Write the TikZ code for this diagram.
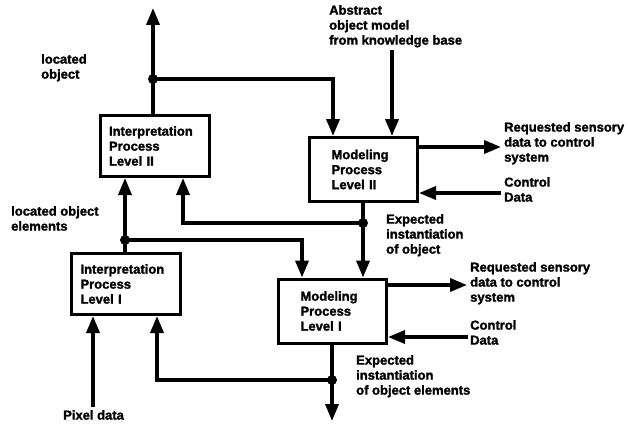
\documentclass[tikz,border=0pt]{standalone}
\usepackage{fontspec}
\setmainfont{Liberation Sans}[BoldFeatures={FakeBold=1.6}]
\usetikzlibrary{arrows.meta,calc}
\begin{document}
\begin{tikzpicture}[x=1pt,y=-1pt,
  every node/.style={font=\bfseries\fontsize{13}{15}\selectfont},
  conn/.style={line width=3.5pt,-{Triangle[width=13pt,length=17pt]}},
  wire/.style={line width=3.5pt},
  ipbox/.style={draw,line width=3pt,minimum width=109pt,minimum height=61pt,
    inner xsep=9pt,text width=91pt,align=left},
  mpbox/.style={draw,line width=3pt,minimum width=108pt,minimum height=64pt,
    inner xsep=22pt,text width=64pt,align=left},
  lbl/.style={align=left,inner sep=0pt,anchor=north west},
  dot/.style={circle,fill=black,inner sep=0pt,minimum size=10pt}]
\useasboundingbox (0,0) rectangle (628,428);
% boxes
\node[ipbox] (ip2) at (154.5,146) {Interpretation\\Process\\Level II};
\node[mpbox] (mp2) at (363.5,169.5) {Modeling\\Process\\Level II};
\node[ipbox] (ip1) at (126,284) {Interpretation\\Process\\Level I};
\node[mpbox] (mp1) at (332.5,311) {Modeling\\Process\\Level I};
% labels
\node[lbl] (locobj) at (41,54) {located\\object};
\node[lbl] (locel) at (11,206) {located object\\elements};
\node[lbl] (pixel) at (63,410) {Pixel data};
\node[lbl] (abstr) at (329,5) {Abstract\\object model\\from knowledge base};
\node[lbl] (req2) at (504,122) {Requested sensory\\data to control\\system};
\node[lbl] (ctl2) at (504,177) {Control\\Data};
\node[lbl] (exp2) at (386,214) {Expected\\instantiation\\of object};
\node[lbl] (req1) at (470,262) {Requested sensory\\data to control\\system};
\node[lbl] (ctl1) at (470,320) {Control\\Data};
\node[lbl] (exp1) at (356,355) {Expected\\instantiation\\of object elements};
% junction dots
\node[dot] (d1) at (153,79) {};
\node[dot] (d2) at (363,223) {};
\node[dot] (d3) at (125,240) {};
\node[dot] (d4) at (332,380) {};
% free ends
\coordinate (top) at (153,8);
\coordinate (bot) at (332,421);
\coordinate (abs) at (392,50);
\coordinate (r2) at (501,147);
\coordinate (c2) at (501,193);
\coordinate (r1) at (467,285);
\coordinate (c1) at (468,337);
\coordinate (px) at (93,407);
% connectors
\draw[conn] (ip2.north -| d1) -- (top);
\draw[conn] (d1.center) -| (mp2.north -| 333,0);
\draw[conn] (abs) -- (mp2.north -| abs);
\draw[conn] (mp2.east |- r2) -- (r2);
\draw[conn] (c2) -- (mp2.east |- c2);
\draw[wire] (mp2.south -| d2) -- (d2.center);
\draw[conn] (d2.center) -- (mp1.north -| d2);
\draw[conn] (d2.center) -| (ip2.south -| 183,0);
\draw[wire] (ip1.north -| d3) -- (d3.center);
\draw[conn] (d3.center) -- (ip2.south -| d3);
\draw[conn] (d3.center) -| (mp1.north -| 302,0);
\draw[conn] (px) -- (ip1.south -| px);
\draw[wire] (mp1.south -| d4) -- (d4.center);
\draw[conn] (d4.center) -- (bot);
\draw[conn] (d4.center) -| (ip1.south -| 157,0);
\draw[conn] (mp1.east |- r1) -- (r1);
\draw[conn] (c1) -- (mp1.east |- c1);
\end{tikzpicture}
\end{document}
